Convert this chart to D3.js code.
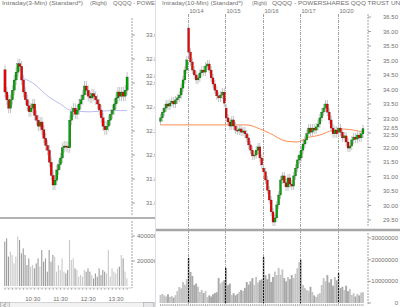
<!DOCTYPE html>
<html>
<head>
<meta charset="utf-8">
<script src="https://cdn.jsdelivr.net/npm/d3@7"></script>
<style>
    body { margin: 0; background: #fff; }
    text { font-family: "Liberation Sans", Arial, sans-serif; }
</style>
</head>
<body>
<div id="chart_area"></div>
<script>
// ---------- left panel: intraday, 4-min bars from 9:30 ----------
var leftBarMinutes = 4;
var leftOpen0 = 32.71;
var leftClose = [32.525, 32.46, 32.39, 32.46, 32.54, 32.625, 32.69, 32.76, 32.74, 32.625,
    32.525, 32.46, 32.41, 32.36, 32.39, 32.425, 32.33, 32.29, 32.24, 32.275,
    32.21, 32.14, 32.08, 32.04, 31.94, 31.83, 31.75, 31.79, 31.875, 31.92,
    31.975, 32.06, 32.075, 32.07, 32.06, 32.29, 32.36, 32.39, 32.34, 32.375,
    32.425, 32.46, 32.50, 32.575, 32.54, 32.49, 32.475, 32.51, 32.49, 32.46,
    32.425, 32.375, 32.31, 32.24, 32.21, 32.24, 32.29, 32.34, 32.375, 32.425,
    32.475, 32.525, 32.49, 32.525, 32.49, 32.54, 32.65];
var leftVolume = [355000, 381000, 235000, 275000, 248000, 181000, 235000, 395000, 368000, 261000,
    301000, 248000, 168000, 221000, 155000, 168000, 141000, 181000, 221000, 155000,
    288000, 195000, 221000, 115000, 288000, 195000, 248000, 235000, 115000, 168000,
    128000, 221000, 115000, 101000, 128000, 368000, 208000, 221000, 141000, 128000,
    75000, 88000, 75000, 128000, 115000, 141000, 115000, 88000, 61000, 101000,
    75000, 141000, 88000, 128000, 115000, 101000, 288000, 75000, 141000, 115000,
    101000, 141000, 155000, 248000, 221000, 115000, 61000];
var leftMaIdx = [8, 15, 24, 30, 35, 46, 57, 66];
var leftMaVal = [32.65, 32.60, 32.48, 32.425, 32.375, 32.36, 32.37, 32.37];
var leftPriceTicks = [31.6, 31.8, 32.0, 32.2, 32.4, 32.6, 32.8, 33.0];
var leftVolTicks = [200000, 400000];
var leftTimeTicks = ["10:30", "11:30", "12:30", "13:30"];
var leftLast = 32.65;

// ---------- right panel: 5 days, 20-min bars ----------
var rightDays = ["10/13", "10/14", "10/15", "10/16", "10/17", "10/20"];
var rightDayStart = [0, 15, 35, 55, 75, 95];
var rightDayOpen = [32.90, 36.12, 33.36, 31.29, 31.64, 32.53];
var rightClose = [33.02, 33.22, 33.36, 33.50, 33.43, 33.53, 33.60, 33.50, 33.64, 33.71, 33.81, 34.05, 34.33, 34.67, 35.02,
    35.29, 34.95, 34.67, 34.50, 34.33, 34.40, 34.57, 34.67, 34.60, 34.81, 34.88, 34.67, 34.40, 34.19, 33.98, 33.78, 33.71, 33.81, 33.91, 33.53,
    33.02, 32.88, 32.74, 32.95, 32.74, 32.60, 32.57, 32.64, 32.53, 32.57, 32.47, 32.33, 32.09, 31.91, 31.71, 31.74, 31.91, 32.02, 31.64, 31.40,
    31.16, 30.88, 30.53, 30.19, 29.78, 29.43, 29.57, 30.02, 30.36, 30.88, 31.02, 30.78, 30.64, 30.95, 30.74, 30.67, 31.02, 31.29, 31.57, 31.74,
    31.91, 32.12, 32.26, 32.47, 32.67, 32.53, 32.67, 32.60, 32.71, 32.81, 33.02, 33.22, 33.36, 33.50, 33.22, 32.95, 32.67, 32.47, 32.60, 32.47,
    32.67, 32.53, 32.33, 32.40, 32.19, 31.98, 32.05, 32.26, 32.36, 32.29, 32.43, 32.33, 32.47, 32.65];
var rightVolume = [3700000, 4200000, 3500000, 3000000, 4000000, 2800000, 3200000, 2500000, 3600000, 5500000, 7400000, 6800000, 9700000, 8500000, 11000000,
    20800000, 14300000, 12500000, 8300000, 9000000, 7500000, 5100000, 6000000, 4600000, 5500000, 2800000, 3500000, 3000000, 4000000, 4600000, 5000000, 11500000, 9000000, 9700000, 10500000,
    16200000, 8300000, 9000000, 3700000, 4500000, 3500000, 4200000, 5100000, 6000000, 5500000, 7000000, 9700000, 8500000, 10000000, 11500000, 8300000, 12000000, 9500000, 10500000, 11000000,
    21200000, 12900000, 11000000, 13500000, 9700000, 12000000, 14500000, 12900000, 16200000, 13000000, 15500000, 11500000, 10000000, 12000000, 11000000, 12900000, 11500000, 13500000, 16000000, 18900000,
    20000000, 8300000, 7000000, 6000000, 5500000, 7500000, 5100000, 3500000, 2800000, 4000000, 4500000, 8300000, 11500000, 10000000, 12900000, 9500000, 11000000, 8000000, 12000000, 10500000,
    13800000, 6900000, 7500000, 6000000, 8000000, 5500000, 6500000, 3700000, 4500000, 3000000, 4200000, 3500000, 4800000, 5000000];
var rightMaIdx = [0, 46, 53, 58, 67, 73, 78, 85, 92, 96, 103, 108];
var rightMaVal = [32.78, 32.78, 32.64, 32.50, 32.22, 32.19, 32.33, 32.43, 32.60, 32.64, 32.60, 32.53];
var rightPriceTicks = [29.5, 30.0, 30.5, 31.0, 31.5, 32.0, 32.5, 33.0, 33.5, 34.0, 34.5, 35.0, 35.5, 36.0, 36.5];
var rightVolTicks = [0, 10000000, 20000000, 30000000];
var rightLast = 32.65;

var UP = "#00a800", DOWN = "#f00000", TXT = "#707070", AX = "#8a8a8a";

// append the svg object to the body of the page
var svg = d3.select("#chart_area")
    .append("svg")
    .attr("width", 400)
    .attr("height", 307)
    .style("display", "block");

svg.append("rect").attr("width", 400).attr("height", 307).attr("fill", "#fff");

var defs = svg.append("defs");
defs.append("clipPath").attr("id", "clipL")
    .append("rect").attr("x", 0).attr("y", 0).attr("width", 155).attr("height", 307);
defs.append("clipPath").attr("id", "clipR")
    .append("rect").attr("x", 156).attr("y", 0).attr("width", 244).attr("height", 307);

var gl = svg.append("g").attr("clip-path", "url(#clipL)");
var gr = svg.append("g").attr("clip-path", "url(#clipR)");

function opensFrom(close, starts, dayOpens) {
    return close.map(function (c, i) {
        var k = starts.indexOf(i);
        return k >= 0 ? dayOpens[k] : close[i - 1];
    });
}

// candles: grey wick + coloured body
function drawCandles(g, xs, y, open, close, w, pad) {
    var idx = d3.range(close.length);
    g.selectAll(null).data(idx).enter().append("line")
        .attr("x1", function (i) { return xs(i); })
        .attr("x2", function (i) { return xs(i); })
        .attr("y1", function (i) { return Math.min(y(open[i]), y(close[i])) - pad; })
        .attr("y2", function (i) { return Math.max(y(open[i]), y(close[i])) + pad; })
        .attr("stroke", "#c4c4c4")
        .attr("stroke-width", 1);
    g.selectAll(null).data(idx).enter().append("rect")
        .attr("x", function (i) { return xs(i) - w / 2; })
        .attr("y", function (i) { return Math.min(y(open[i]), y(close[i])); })
        .attr("width", w)
        .attr("height", function (i) { return Math.max(Math.abs(y(open[i]) - y(close[i])), 1); })
        .attr("fill", function (i) { return close[i] >= open[i] ? UP : DOWN; })
        .attr("stroke", "#222")
        .attr("stroke-width", 0.25);
}

function label(g, x, y, s, anchor, size, fill) {
    return g.append("text")
        .attr("x", x).attr("y", y)
        .attr("text-anchor", anchor || "start")
        .attr("font-size", size || 6)
        .attr("fill", fill || TXT)
        .text(s);
}

// ================= LEFT PANEL =================
var t0 = new Date(2008, 9, 20, 9, 30);
var leftOpen = opensFrom(leftClose, [0], [leftOpen0]);
var leftTime = leftClose.map(function (d, i) { return d3.timeMinute.offset(t0, i * leftBarMinutes); });

var xL = d3.scaleTime()
    .domain([t0, new Date(2008, 9, 20, 13, 30)])
    .range([5, 116]);
var xLi = function (i) { return xL(leftTime[i]); };
var yL = d3.scaleLinear().domain([31.6, 33.0]).range([203, 35]);
var yLV = d3.scaleLinear().domain([0, 400000]).range([286, 236]);

// titles (the panel cuts the long name short)
label(gl, 2, 5.3, "Intraday(3-Min) (Standard*)", "start", 5.6).attr("textLength", 81).attr("lengthAdjust", "spacingAndGlyphs");
label(gl, 90, 5.3, "(Right)", "start", 5.6).attr("textLength", 17).attr("lengthAdjust", "spacingAndGlyphs");
label(gl, 113, 5.3, "QQQQ - POWE", "start", 5.6).attr("textLength", 42).attr("lengthAdjust", "spacingAndGlyphs");

// price axis on the right side
var axL = gl.append("g").attr("transform", "translate(132,0)");
axL.append("line").attr("x1", 0).attr("x2", 0).attr("y1", 18).attr("y2", 215)
    .attr("stroke", AX).attr("stroke-width", 0.8).attr("stroke-dasharray", "2,1");
axL.selectAll(null).data(leftPriceTicks).enter().append("line")
    .attr("x1", 0).attr("x2", 3)
    .attr("y1", function (d) { return yL(d); }).attr("y2", function (d) { return yL(d); })
    .attr("stroke", AX).attr("stroke-width", 0.8);
leftPriceTicks.forEach(function (d) {
    label(gl, 161, yL(d) + 2, d.toFixed(2), "end");
});
label(gl, 161, yL(leftLast) + 1, leftLast.toFixed(2), "end");

// moving average
gl.append("path")
    .datum(leftMaIdx.map(function (i, k) { return [xLi(i), yL(leftMaVal[k])]; }))
    .attr("d", d3.line().curve(d3.curveMonotoneX))
    .attr("fill", "none").attr("stroke", "#a8a8f0").attr("stroke-width", 0.8);

drawCandles(gl, xLi, yL, leftOpen, leftClose, 2.2, 5);

// separator price / volume
gl.append("line").attr("x1", 0).attr("x2", 155).attr("y1", 218).attr("y2", 218)
    .attr("stroke", "#999").attr("stroke-width", 1.5);

// volume bars
gl.selectAll(null).data(leftVolume).enter().append("rect")
    .attr("x", function (d, i) { return xLi(i) - 0.8; })
    .attr("y", function (d) { return yLV(d); })
    .attr("width", 1.1)
    .attr("height", function (d) { return yLV(0) - yLV(d); })
    .attr("fill", function (d, i) { return leftClose[i] >= leftOpen[i] ? "#c8c8c8" : "#9c9c9c"; });

gl.append("line").attr("x1", 132).attr("x2", 132).attr("y1", 221).attr("y2", 288)
    .attr("stroke", AX).attr("stroke-width", 0.8).attr("stroke-dasharray", "2,1");
leftVolTicks.forEach(function (d) {
    gl.append("line").attr("x1", 132).attr("x2", 135).attr("y1", yLV(d)).attr("y2", yLV(d))
        .attr("stroke", AX).attr("stroke-width", 0.8);
    label(gl, 157, yLV(d) + 2, d3.format("d")(d), "end");
});

// time axis
var parseHM = d3.timeParse("%H:%M");
gl.append("line").attr("x1", 4).attr("x2", 132).attr("y1", 288).attr("y2", 288)
    .attr("stroke", "#bbb").attr("stroke-width", 0.6);
gl.selectAll(null).data(d3.range(0, leftClose.length, 2)).enter().append("line")
    .attr("x1", function (i) { return xLi(i); }).attr("x2", function (i) { return xLi(i); })
    .attr("y1", 288).attr("y2", 290)
    .attr("stroke", AX).attr("stroke-width", 0.6);
leftTimeTicks.forEach(function (s) {
    var p = parseHM(s);
    var t = new Date(2008, 9, 20, p.getHours(), p.getMinutes());
    label(gl, xL(t), 301, s, "middle");
});

// scrollbar at the bottom
gl.append("rect").attr("x", 0.5).attr("y", 302.5).attr("width", 154).attr("height", 5)
    .attr("fill", "#f2f2f2").attr("stroke", "#bdbdbd").attr("stroke-width", 0.6);
gl.append("rect").attr("x", 0.5).attr("y", 302.5).attr("width", 9).attr("height", 5)
    .attr("fill", "#e6e6e6").attr("stroke", "#aaa").attr("stroke-width", 0.6);
gl.append("rect").attr("x", 143.5).attr("y", 302.5).attr("width", 10).attr("height", 5)
    .attr("fill", "#e6e6e6").attr("stroke", "#aaa").attr("stroke-width", 0.6);
gl.append("path").attr("d", "M6,303.5 L3.5,305.5 L6,307").attr("fill", "none").attr("stroke", "#777").attr("stroke-width", 0.6);

// panel divider
svg.append("line").attr("x1", 155.5).attr("x2", 155.5).attr("y1", 0).attr("y2", 307)
    .attr("stroke", "#dcdcea").attr("stroke-width", 1);

// ================= RIGHT PANEL =================
var rightOpen = opensFrom(rightClose, rightDayStart, rightDayOpen);
var xR = d3.scaleLinear().domain([0, rightClose.length - 1]).range([160.5, 363]);
var yR = d3.scaleLinear().domain([29.5, 36.5]).range([220, 17]);
var yRV = d3.scaleLinear().domain([0, 30000000]).range([303, 238]);

label(gr, 162, 5.3, "Intraday(10-Min) (Standard*)", "start", 5.6).attr("textLength", 81).attr("lengthAdjust", "spacingAndGlyphs");
label(gr, 252, 5.3, "(Right)", "start", 5.6).attr("textLength", 15).attr("lengthAdjust", "spacingAndGlyphs");
label(gr, 272, 5.3, "QQQQ - POWERSHARES QQQ TRUST UNIT", "start", 5.6).attr("textLength", 134).attr("lengthAdjust", "spacingAndGlyphs");

// day separators and dates
rightDayStart.forEach(function (s, k) {
    if (k === 0) return;
    var x = Math.round(xR(s - 0.5)) + 0.5;
    gr.append("line").attr("x1", x).attr("x2", x).attr("y1", 14).attr("y2", 304)
        .attr("stroke", "#8c8c8c").attr("stroke-width", 0.8).attr("stroke-dasharray", "3,1,1,1");
    label(gr, x + 1, 13.2, rightDays[k], "start", 5.6);
});

// moving average
gr.append("path")
    .datum(rightMaIdx.map(function (i, k) { return [xR(i), yR(rightMaVal[k])]; }))
    .attr("d", d3.line().curve(d3.curveMonotoneX))
    .attr("fill", "none").attr("stroke", "#ff8a50").attr("stroke-width", 1);

drawCandles(gr, xR, yR, rightOpen, rightClose, 2, 4);

// price axis
gr.append("line").attr("x1", 368).attr("x2", 368).attr("y1", 14).attr("y2", 226)
    .attr("stroke", AX).attr("stroke-width", 0.8).attr("stroke-dasharray", "2,1");
rightPriceTicks.forEach(function (d) {
    gr.append("line").attr("x1", 368).attr("x2", 371).attr("y1", yR(d)).attr("y2", yR(d))
        .attr("stroke", AX).attr("stroke-width", 0.8);
    var dy = d === 32.5 ? 3.5 : 2;
    label(gr, 398, yR(d) + dy, d.toFixed(2), "end");
});
label(gr, 398, yR(rightLast) + 1.5, rightLast.toFixed(2), "end");

// separator
gr.append("line").attr("x1", 156).attr("x2", 400).attr("y1", 230).attr("y2", 230)
    .attr("stroke", "#a6a6a6").attr("stroke-width", 2.5);

// volume
gr.selectAll(null).data(rightVolume).enter().append("rect")
    .attr("x", function (d, i) { return xR(i) - 0.95; })
    .attr("y", function (d) { return yRV(d); })
    .attr("width", 1.9)
    .attr("height", function (d) { return yRV(0) - yRV(d); })
    .attr("fill", function (d, i) { return rightClose[i] >= rightOpen[i] ? "#c4c4c4" : "#a8a8a8"; });

// day open volume drawn darker along the separator line
rightDayStart.forEach(function (s, k) {
    if (k === 0) return;
    var x = Math.round(xR(s - 0.5)) + 0.5;
    gr.append("line").attr("x1", x).attr("x2", x)
        .attr("y1", yRV(rightVolume[s])).attr("y2", yRV(0))
        .attr("stroke", "#000").attr("stroke-width", 0.9).attr("stroke-dasharray", "2,1");
});

gr.append("line").attr("x1", 368).attr("x2", 368).attr("y1", 233).attr("y2", 304)
    .attr("stroke", AX).attr("stroke-width", 0.8).attr("stroke-dasharray", "2,1");
rightVolTicks.forEach(function (d) {
    gr.append("line").attr("x1", 368).attr("x2", 371).attr("y1", yRV(d)).attr("y2", yRV(d))
        .attr("stroke", AX).attr("stroke-width", 0.8);
    label(gr, 398, Math.min(yRV(d) + 2, 306), d3.format("d")(d), "end");
});

// bottom ticks
gr.selectAll(null).data(d3.range(rightClose.length)).enter().append("line")
    .attr("x1", function (i) { return xR(i); }).attr("x2", function (i) { return xR(i); })
    .attr("y1", 304).attr("y2", 306)
    .attr("stroke", "#666").attr("stroke-width", 0.5);
</script>
</body>
</html>
